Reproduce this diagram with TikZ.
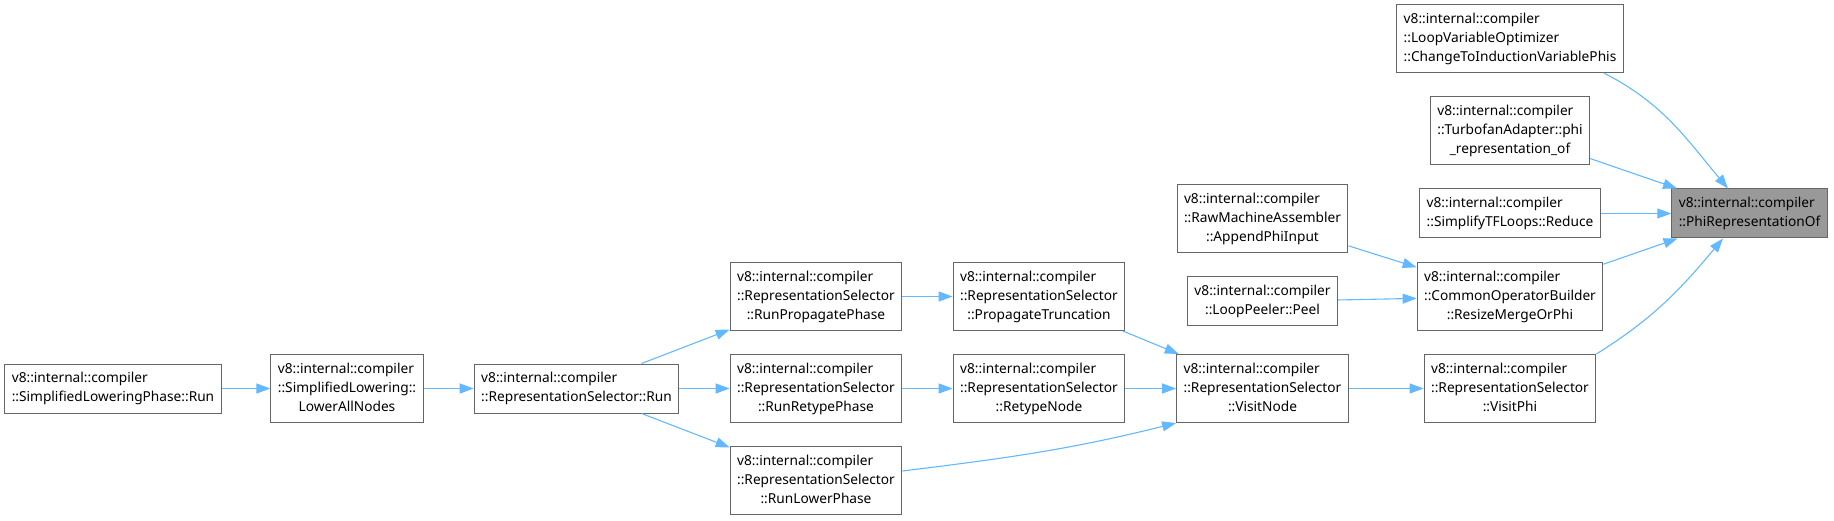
\documentclass[tikz,border=0pt]{standalone}
\usepackage{fontspec}
\setmainfont{Noto Sans}
\usetikzlibrary{arrows.meta}

\definecolor{edgeblue}{HTML}{63B8FF}
\definecolor{boxline}{HTML}{666666}
\definecolor{mainfill}{HTML}{999999}

% left-aligned lines, last line centred (doxygen style)
\newcommand{\fnlabel}[2]{\begin{tabular}{@{}l@{}}#1\\\multicolumn{1}{@{}c@{}}{#2}\end{tabular}}

\begin{document}
\begin{tikzpicture}[x=1pt, y=1pt,
  fnbox/.style={draw=boxline, line width=1pt, fill=white,
                inner xsep=7pt, inner ysep=5.5pt,
                font=\fontsize{13.7}{19}\selectfont},
  mainbox/.style={fnbox, fill=mainfill},
  arr/.style={{Triangle[length=14pt,width=10pt]}-, draw=edgeblue,
              line width=1.1pt}
]
  \useasboundingbox (0,0) rectangle (1834,520);

  % Left chain
  \node[fnbox] at (113,131.5)   (slr) {\fnlabel{v8::internal::compiler}{::SimplifiedLoweringPhase::Run}};
  \node[fnbox] at (347,131.5)   (lan) {\fnlabel{v8::internal::compiler\\::SimplifiedLowering::}{LowerAllNodes}};
  \node[fnbox] at (576.5,131.5) (rsr) {\fnlabel{v8::internal::compiler}{::RepresentationSelector::Run}};

  % Phases (x=816)
  \node[fnbox] at (816,223.5) (rpp) {\fnlabel{v8::internal::compiler\\::RepresentationSelector}{::RunPropagatePhase}};
  \node[fnbox] at (816,131.5) (rrp) {\fnlabel{v8::internal::compiler\\::RepresentationSelector}{::RunRetypePhase}};
  \node[fnbox] at (816,39.5)  (rlp) {\fnlabel{v8::internal::compiler\\::RepresentationSelector}{::RunLowerPhase}};

  % Node visitors (x=1039)
  \node[fnbox] at (1039,223.5) (ptr) {\fnlabel{v8::internal::compiler\\::RepresentationSelector}{::PropagateTruncation}};
  \node[fnbox] at (1039,131.5) (rtn) {\fnlabel{v8::internal::compiler\\::RepresentationSelector}{::RetypeNode}};

  % Column x=1262.5
  \node[fnbox] at (1262.5,301)   (ram) {\fnlabel{v8::internal::compiler\\::RawMachineAssembler}{::AppendPhiInput}};
  \node[fnbox] at (1262.5,218.5) (lpp) {\fnlabel{v8::internal::compiler}{::LoopPeeler::Peel}};
  \node[fnbox] at (1262.5,131.5) (vnd) {\fnlabel{v8::internal::compiler\\::RepresentationSelector}{::VisitNode}};

  % Direct callers (x=1510)
  \node[fnbox] at (1510,481.5) (lvo) {\fnlabel{v8::internal::compiler\\::LoopVariableOptimizer}{::ChangeToInductionVariablePhis}};
  \node[fnbox] at (1510,389)   (tfa) {\fnlabel{v8::internal::compiler\\::TurbofanAdapter::phi}{\_representation\_of}};
  \node[fnbox] at (1510,306.5) (stl) {\fnlabel{v8::internal::compiler}{::SimplifyTFLoops::Reduce}};
  \node[fnbox] at (1510,223.5) (cob) {\fnlabel{v8::internal::compiler\\::CommonOperatorBuilder}{::ResizeMergeOrPhi}};
  \node[fnbox] at (1510,131.5) (vph) {\fnlabel{v8::internal::compiler\\::RepresentationSelector}{::VisitPhi}};

  % Target
  \node[mainbox] at (1749.5,306.5) (phi) {\fnlabel{v8::internal::compiler}{::PhiRepresentationOf}};

  % Left chain arrows
  \draw[arr] (lan) -- (slr);
  \draw[arr] (rsr) -- (lan);
  \draw[arr] (rpp) -- (rsr);
  \draw[arr] (rrp) -- (rsr);
  \draw[arr] (rlp) -- (rsr);

  % Phases into visitors
  \draw[arr] (ptr) -- (rpp);
  \draw[arr] (rtn) -- (rrp);
  \draw[arr] (vnd) -- (ptr);
  \draw[arr] (vnd) -- (rtn);
  \draw[arr] (vnd.south west) to[out=194,in=7] ([yshift=9.5pt]rlp.east);
  \draw[arr] (vph) -- (vnd);

  % Into ResizeMergeOrPhi
  \draw[arr] (cob) -- (ram);
  \draw[arr] (cob) -- (lpp);

  % Into PhiRepresentationOf
  \draw[arr] ([xshift=-21.5pt]phi.north) to[out=130,in=-27] ([xshift=-20pt]lvo.south east);
  \draw[arr] (phi) -- (tfa);
  \draw[arr] (phi) -- (stl);
  \draw[arr] (phi) -- (cob);
  \draw[arr] ([xshift=-26.5pt]phi.south) to[out=230,in=32] (vph.north east);

\end{tikzpicture}
\end{document}
